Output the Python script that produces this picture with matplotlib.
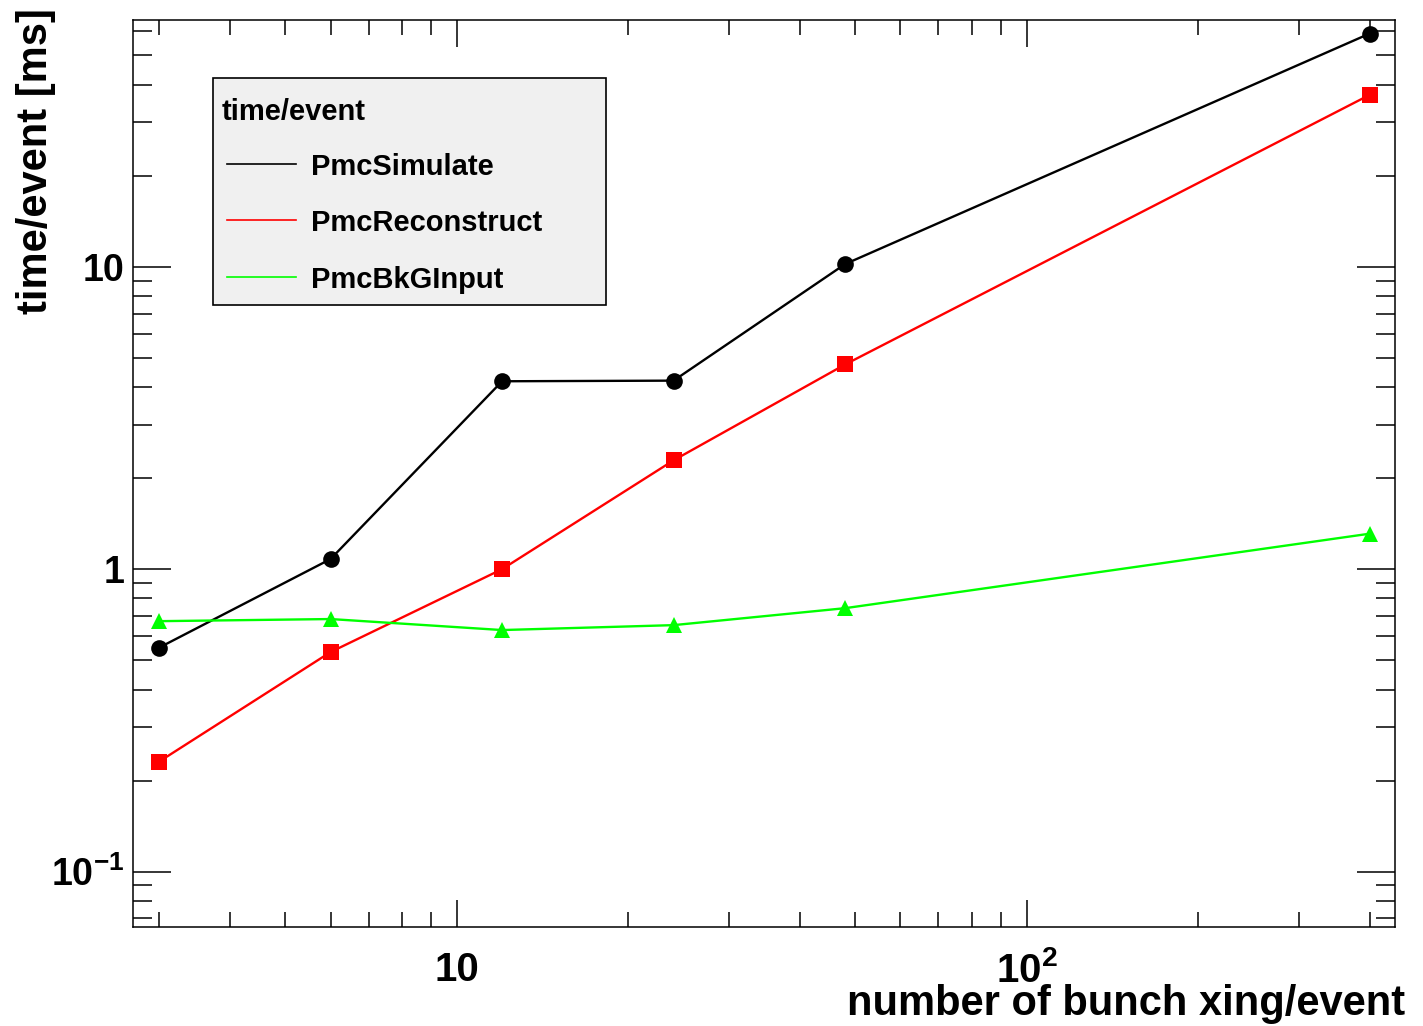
import numpy as np
import matplotlib
matplotlib.use('Agg')
import matplotlib.pyplot as plt
from matplotlib.lines import Line2D
from matplotlib.patches import Rectangle
from matplotlib.ticker import FixedLocator, FixedFormatter, LogLocator, NullFormatter

plt.rcParams['font.family'] = ['Liberation Sans', 'DejaVu Sans']
plt.rcParams['font.weight'] = 'bold'
plt.rcParams['mathtext.fontset'] = 'custom'
plt.rcParams['mathtext.rm'] = 'Liberation Sans:bold'
plt.rcParams['mathtext.bf'] = 'Liberation Sans:bold'
plt.rcParams['mathtext.default'] = 'bf'

# bunch crossings per event
xing = [3, 6, 12, 24, 48, 400]

# time/event in ms
t_simulate = [0.55, 1.08, 4.18, 4.2, 10.2, 59.0]
t_reconstruct = [0.231, 0.532, 1.0, 2.29, 4.75, 37.0]
t_bkginput = [0.673, 0.684, 0.629, 0.653, 0.743, 1.31]

series = [
    ('PmcSimulate', t_simulate, 'black', 'o'),
    ('PmcReconstruct', t_reconstruct, '#ff0000', 's'),
    ('PmcBkGInput', t_bkginput, '#00ff00', '^'),
]

W, H = 1423, 1026
fig = plt.figure(figsize=(W / 100, H / 100), dpi=100)
ax = fig.add_axes([133 / W, 1 - 927 / H, (1395 - 133) / W, (927 - 20) / H])

for name, vals, col, mk in series:
    ax.plot(xing, vals, color=col, lw=1.7, marker=mk, ms=12, mew=0, label=name)

ax.set_xscale('log')
ax.set_yscale('log')
ax.set_xlim(2.70, 443)
ax.set_ylim(0.0656, 65.4)

ax.xaxis.set_major_locator(FixedLocator([10, 100]))
ax.xaxis.set_major_formatter(FixedFormatter(['10', r'10$^{2}$']))
ax.xaxis.set_minor_locator(LogLocator(base=10, subs=np.arange(2, 10)))
ax.xaxis.set_minor_formatter(NullFormatter())
ax.yaxis.set_major_locator(FixedLocator([0.1, 1, 10]))
ax.yaxis.set_major_formatter(FixedFormatter([r'10$^{-1}$', '1', '10']))
ax.yaxis.set_minor_locator(LogLocator(base=10, subs=np.arange(2, 10)))
ax.yaxis.set_minor_formatter(NullFormatter())

ax.tick_params(which='both', direction='in', top=True, right=True, width=1.1)
ax.tick_params(axis='x', which='major', length=19.5, labelsize=29, pad=17)
ax.tick_params(axis='x', which='minor', length=10.5)
ax.tick_params(axis='y', which='major', length=27.5, labelsize=27, pad=6)
ax.tick_params(axis='y', which='minor', length=13.5)
for sp in ax.spines.values():
    sp.set_linewidth(1.1)

fig.text(1405 / W, 1 - 1015 / H, 'number of bunch xing/event', ha='right',
         va='baseline', fontsize=30, fontweight='bold')
fig.text(36 / W, 1 - 8 / H, 'time/event [ms]', rotation=90, ha='center',
         va='top', fontsize=30, fontweight='bold')

# legend box
fig.patches.append(Rectangle((213 / W, 1 - 305 / H), (606 - 213) / W, (305 - 78) / H,
                             transform=fig.transFigure, facecolor='#f0f0f0',
                             edgecolor='black', lw=1.2, zorder=5))
fig.text(222 / W, 1 - 112 / H, 'time/event', ha='left', va='center',
         fontsize=21, fontweight='bold', zorder=6)
for (name, vals, col, mk), yy in zip(series, [164, 220, 277]):
    fig.lines.append(Line2D([227 / W, 296 / W], [1 - yy / H, 1 - yy / H],
                            transform=fig.transFigure, color=col, lw=1.2, zorder=6))
    fig.text(311 / W, 1 - (yy + 3) / H, name, ha='left', va='center',
             fontsize=21, fontweight='bold', zorder=6)

fig.savefig('out.png', dpi=100)
